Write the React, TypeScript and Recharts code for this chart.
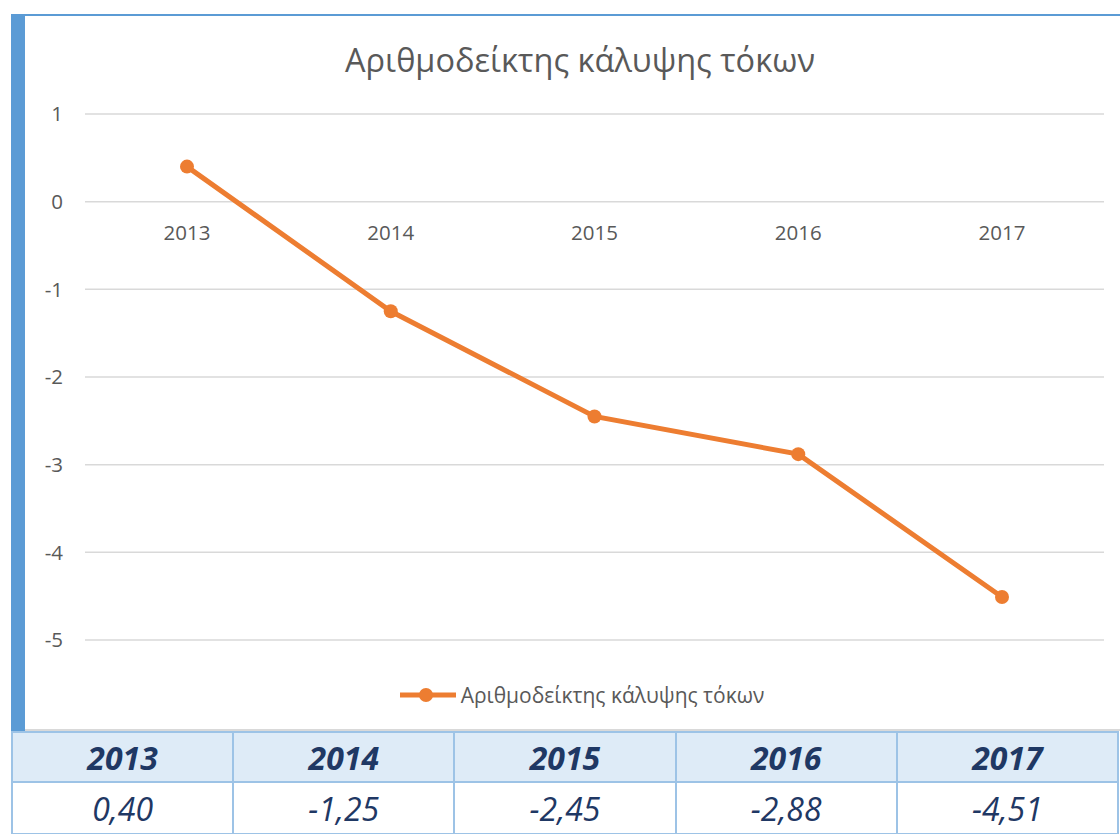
import React from 'react';
import {
  LineChart,
  Line,
  XAxis,
  YAxis,
  CartesianGrid,
  Legend,
  ReferenceDot,
} from 'recharts';

const YEARS = ['2013', '2014', '2015', '2016', '2017'];
const VALUES = [0.4, -1.25, -2.45, -2.88, -4.51];
const Y_TICKS = [-5, -4, -3, -2, -1, 0, 1];
const TITLE = 'Αριθμοδείκτης κάλυψης τόκων';

const data = YEARS.map((year, i) => ({ year, value: VALUES[i] }));

const ORANGE = '#ed7d31';
const FONT = '"Open Sans", "Noto Sans", sans-serif';

function LegendContent() {
  return (
    <div style={{ display: 'flex', justifyContent: 'center', alignItems: 'center', height: 30, paddingLeft: 35 }}>
      <svg width={56} height={16} style={{ marginRight: 5 }}>
        <line x1={0} y1={8} x2={56} y2={8} stroke={ORANGE} strokeWidth={5} />
        <circle cx={26} cy={8} r={7} fill={ORANGE} />
      </svg>
      <span style={{ fontFamily: FONT, fontSize: 21, color: '#595959' }}>{TITLE}</span>
    </div>
  );
}

function formatValue(v: number) {
  return v.toFixed(2).replace('.', ',');
}

export default function App() {
  const cell: React.CSSProperties = {
    border: '2px solid #9dc3e6',
    textAlign: 'center',
    color: '#1f3864',
    fontFamily: FONT,
    fontStyle: 'italic',
    fontSize: 32,
    padding: 0,
  };
  return (
    <div style={{ position: 'absolute', left: 0, top: 0, width: 1120, height: 834, background: '#fff', overflow: 'hidden' }}>
      <div style={{ position: 'absolute', left: 11, top: 14, width: 14, height: 718, background: '#5b9bd5' }} />
      <div style={{ position: 'absolute', left: 25, top: 14, width: 1095, height: 2, background: '#5b9bd5' }} />
      <div
        style={{
          position: 'absolute',
          left: 25,
          top: 37,
          width: 1110,
          textAlign: 'center',
          fontFamily: FONT,
          fontSize: 32.5,
          color: '#595959',
        }}
      >
        {TITLE}
      </div>
      <div style={{ position: 'absolute', left: 0, top: 0 }}>
        <LineChart width={1120} height={730} data={data} margin={{ top: 114, right: 16, left: 25, bottom: 20 }}>
          <CartesianGrid horizontal vertical={false} stroke="#d9d9d9" strokeWidth={1.5} />
          <XAxis dataKey="year" height={40} tick={false} axisLine={false} tickLine={false} padding={{ left: 102, right: 102 }} />
          <YAxis
            width={60}
            domain={[-5, 1]}
            ticks={Y_TICKS}
            axisLine={false}
            tickLine={false}
            tickSize={0}
            tickMargin={22}
            tick={{ fontSize: 20.5, fill: '#595959', fontFamily: FONT }}
          />
          {YEARS.map((y) => (
            <ReferenceDot
              key={y}
              x={y}
              y={0}
              r={0}
              stroke="none"
              label={{ value: y, position: 'bottom', offset: 24, fontSize: 20.5, fill: '#595959', fontFamily: FONT }}
            />
          ))}
          <Legend verticalAlign="bottom" content={<LegendContent />} />
          <Line
            type="linear"
            dataKey="value"
            name={TITLE}
            stroke={ORANGE}
            strokeWidth={5}
            dot={{ r: 7, fill: ORANGE, stroke: ORANGE, strokeWidth: 0 }}
            activeDot={false}
            isAnimationActive={false}
          />
        </LineChart>
      </div>
      <div style={{ position: 'absolute', left: 25, top: 729, width: 1095, height: 2, background: '#d9d9d9' }} />
      <table
        style={{
          position: 'absolute',
          left: 11,
          top: 731,
          borderCollapse: 'collapse',
          tableLayout: 'fixed',
          width: 1108,
        }}
      >
        <tbody>
          <tr style={{ height: 50, background: '#deebf7' }}>
            {YEARS.map((y) => (
              <td key={y} style={{ ...cell, fontWeight: 700 }}>
                {y}
              </td>
            ))}
          </tr>
          <tr style={{ height: 52 }}>
            {VALUES.map((v, i) => (
              <td key={i} style={cell}>
                {formatValue(v)}
              </td>
            ))}
          </tr>
        </tbody>
      </table>
    </div>
  );
}
